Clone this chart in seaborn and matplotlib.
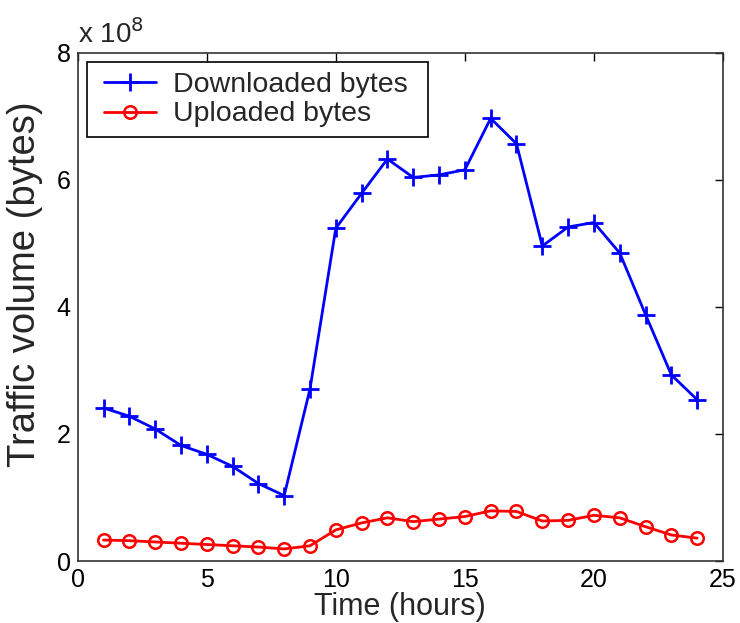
import numpy as np
import pandas as pd
import matplotlib
matplotlib.use("Agg")
import matplotlib.pyplot as plt
import seaborn as sns
from matplotlib.legend_handler import HandlerLine2D

# Hourly traffic, in units of 1e8 bytes
hours = list(range(1, 25))
downloaded = [2.41, 2.28, 2.08, 1.82, 1.68, 1.49, 1.22, 1.03, 2.71, 5.24,
              5.79, 6.33, 6.04, 6.08, 6.16, 6.97, 6.57, 4.96, 5.26, 5.33,
              4.85, 3.88, 2.93, 2.54]
uploaded = [0.33, 0.32, 0.30, 0.28, 0.26, 0.24, 0.22, 0.19, 0.24, 0.49,
            0.60, 0.68, 0.62, 0.66, 0.70, 0.79, 0.78, 0.63, 0.64, 0.72,
            0.68, 0.54, 0.41, 0.36]
series_names = ["Downloaded bytes", "Uploaded bytes"]
x_ticks = [0, 5, 10, 15, 20, 25]
y_ticks = [0, 2, 4, 6, 8]

df = pd.DataFrame({
    "hour": hours * 2,
    "volume": downloaded + uploaded,
    "series": [series_names[0]] * len(hours) + [series_names[1]] * len(hours),
})

sns.set_style("white")
plt.rcParams["font.family"] = ["Liberation Sans", "DejaVu Sans"]

fig = plt.figure(figsize=(7.40, 6.23), dpi=100)
ax = fig.add_axes([0.105, 0.0995, 0.872, 0.8155])

blue, red = "#0000ff", "#ff0000"
sns.lineplot(data=df[df.series == series_names[0]], x="hour", y="volume",
             color=blue, marker="+", markersize=13, markeredgewidth=2,
             markeredgecolor=blue, linewidth=2, label=series_names[0], ax=ax)
sns.lineplot(data=df[df.series == series_names[1]], x="hour", y="volume",
             color=red, marker="o", markersize=9, markerfacecolor="none",
             markeredgecolor=red, markeredgewidth=1.8,
             linewidth=2, label=series_names[1], ax=ax)

ax.set_xlim(0, 25)
ax.set_ylim(0, 8)
ax.set_xticks(x_ticks)
ax.set_yticks(y_ticks)
ax.tick_params(direction="in", length=6, width=1, top=True, right=True,
               labelsize=18, pad=5, colors="black")
for s in ax.spines.values():
    s.set_visible(True)
    s.set_color("#333333")
    s.set_linewidth(1.2)

ax.set_xlabel("Time (hours)", fontsize=22, labelpad=0)
ax.set_ylabel("Traffic volume (bytes)", fontsize=27.5)
ax.yaxis.set_label_coords(-0.054, 0.545)
ax.text(0.0, 1.008, r"x 10$^{8}$", transform=ax.transAxes, fontsize=20,
        ha="left", va="bottom")

# Legend box with a fixed width, handles inset from the frame
handles, labels = ax.get_legend_handles_labels()
leg = ax.legend(handles, labels, loc="upper left",
                bbox_to_anchor=(0.014, 0.0, 0.529, 0.982), mode="expand",
                fontsize=20.5, frameon=True, fancybox=False,
                edgecolor="black", framealpha=1, borderpad=0.35,
                handlelength=2.07, handletextpad=0.6, labelspacing=0.12,
                borderaxespad=0.0,
                handler_map={h: HandlerLine2D(xpad=0.25) for h in handles})
leg.get_frame().set_linewidth(1.2)

fig.savefig("out.png", dpi=100, facecolor="white")
